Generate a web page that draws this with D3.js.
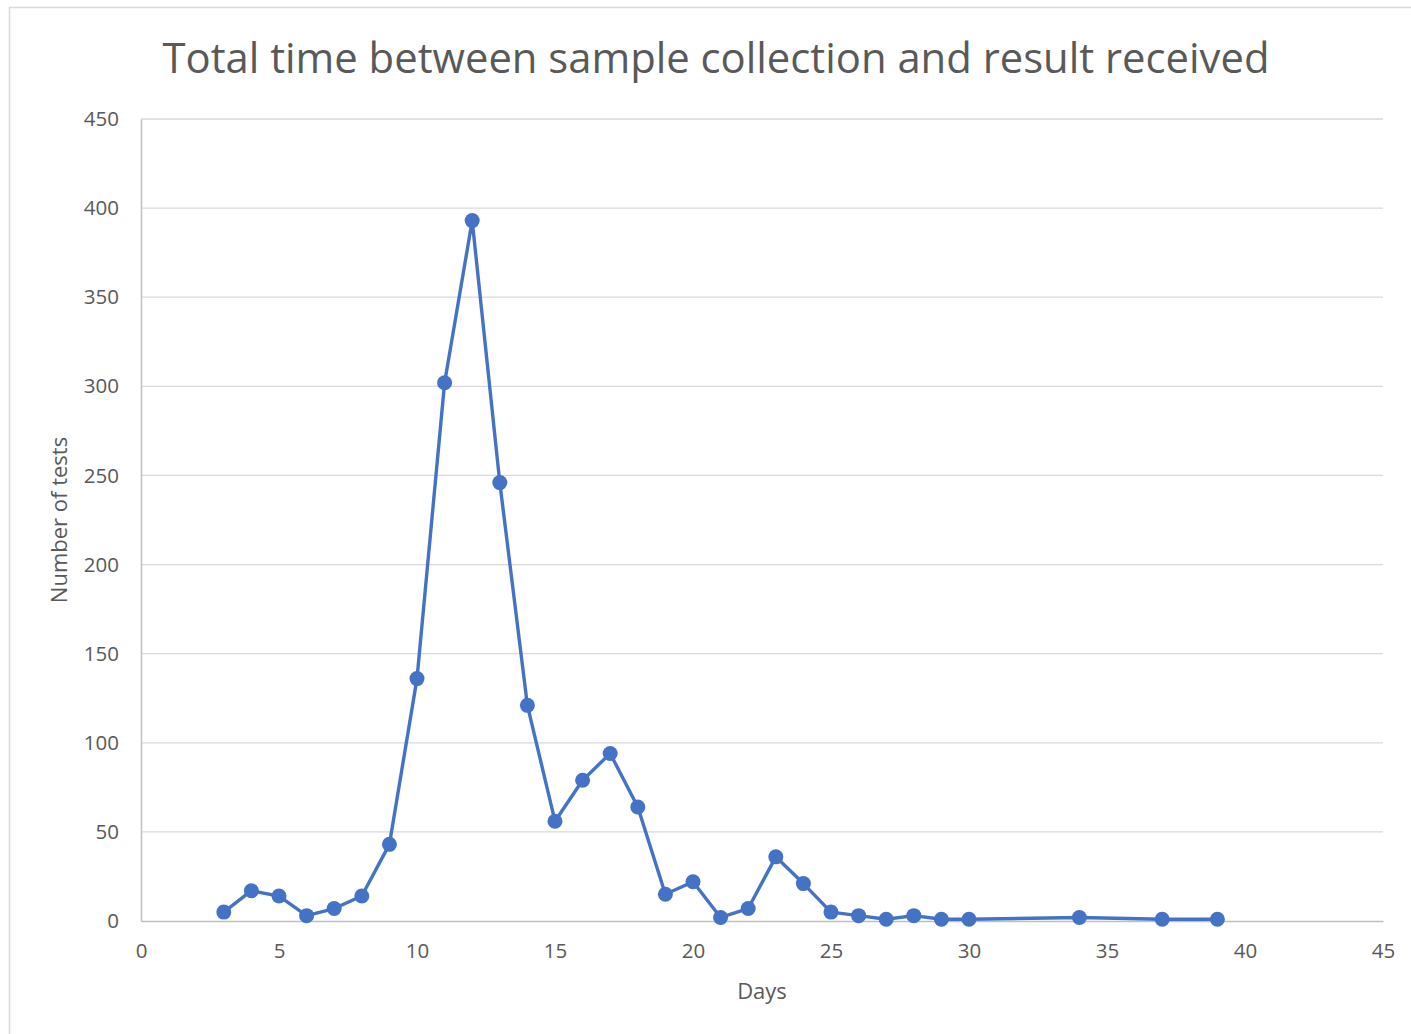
<!DOCTYPE html>
<html>
<head>
<meta charset="utf-8">
<script src="https://cdn.jsdelivr.net/npm/d3@7"></script>
<style>
  body { margin: 0; background: #fff; }
  text { font-family: "Open Sans", "Noto Sans", sans-serif; fill: #595959; }
</style>
</head>
<body>
<script>
var days   = [3, 4, 5, 6, 7, 8, 9, 10, 11, 12, 13, 14, 15, 16, 17, 18, 19, 20, 21, 22, 23, 24, 25, 26, 27, 28, 29, 30, 34, 37, 39];
var tests  = [5, 17, 14, 3, 7, 14, 43, 136, 302, 393, 246, 121, 56, 79, 94, 64, 15, 22, 2, 7, 36, 21, 5, 3, 1, 3, 1, 1, 2, 1, 1];
var xTicks = [0, 5, 10, 15, 20, 25, 30, 35, 40, 45];
var yTicks = [0, 50, 100, 150, 200, 250, 300, 350, 400, 450];

var W = 1411, H = 1034;
var svg = d3.select("body").append("svg").attr("width", W).attr("height", H);

// chart frame
svg.append("rect").attr("x", 9.5).attr("y", 7.5).attr("width", W + 20).attr("height", H + 20)
  .attr("fill", "#fff").attr("stroke", "#d9d9d9").attr("stroke-width", 1.5);

var x = d3.scaleLinear().domain([0, 45]).range([141, 1383]);
var y = d3.scaleLinear().domain([0, 450]).range([921, 119]);

// gridlines
svg.append("g").selectAll("line").data(yTicks.slice(1)).enter().append("line")
  .attr("x1", x(0)).attr("x2", x(45))
  .attr("y1", function(d) { return y(d); }).attr("y2", function(d) { return y(d); })
  .attr("stroke", "#d9d9d9").attr("stroke-width", 1.3);

// axes
var yAxis = svg.append("g").attr("transform", "translate(" + x(0) + ",0)")
  .call(d3.axisLeft(y).tickValues(yTicks).tickSize(0).tickPadding(22));
var xAxis = svg.append("g").attr("transform", "translate(0," + y(0) + ")")
  .call(d3.axisBottom(x).tickValues(xTicks).tickSize(0).tickPadding(24));
[yAxis, xAxis].forEach(function(g) {
  g.select(".domain").attr("stroke", "#bfbfbf").attr("stroke-width", 1.5);
  g.selectAll("text").attr("font-size", 20.5).style("fill", "#595959")
    .attr("font-family", "'Open Sans', sans-serif");
});
xAxis.selectAll("text").attr("dy", "0.62em");

// line + markers
var line = d3.line().x(function(d, i) { return x(days[i]); }).y(function(d) { return y(d); });
svg.append("path").datum(tests).attr("d", line)
  .attr("fill", "none").attr("stroke", "#4472c4").attr("stroke-width", 3.4).attr("stroke-linejoin", "round");
svg.append("g").selectAll("circle").data(tests).enter().append("circle")
  .attr("cx", function(d, i) { return x(days[i]); }).attr("cy", function(d) { return y(d); })
  .attr("r", 7.5).attr("fill", "#4472c4");

// titles
svg.append("text").attr("x", 716).attr("y", 73).attr("text-anchor", "middle")
  .attr("font-size", 42).attr("textLength", 1107).attr("lengthAdjust", "spacingAndGlyphs")
  .text("Total time between sample collection and result received");
svg.append("text").attr("x", 762).attr("y", 999).attr("text-anchor", "middle")
  .attr("font-size", 22).text("Days");
svg.append("text").attr("transform", "translate(67,520) rotate(-90)").attr("text-anchor", "middle")
  .attr("font-size", 22).text("Number of tests");
</script>
</body>
</html>
